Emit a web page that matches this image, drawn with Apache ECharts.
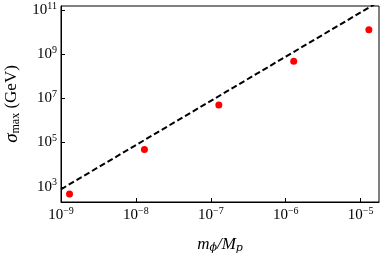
<!DOCTYPE html>
<html><head><meta charset="utf-8">
<script src="https://cdn.jsdelivr.net/npm/echarts@6/dist/echarts.min.js"></script>
<style>html,body{margin:0;padding:0;background:#fff}#c{width:381px;height:259px}</style>
</head><body><div id="c"></div>
<script>
// Data
const massRatio = [1.3e-9, 1.3e-8, 1.28e-7, 1.28e-6, 1.29e-5];
const sigmaMax = [4.7e2, 4.9e4, 5.0e6, 4.7e8, 1.25e10];
const fitX = [1e-9, 2e-5];
const fitY = [7.7e2, 3.07e11];
const xTicks = [1e-9, 1e-8, 1e-7, 1e-6, 1e-5];
const yTicks = [1e3, 1e5, 1e7, 1e9, 1e11];
const xRange = [1e-9, 1.76e-5];
const yRange = [2.05e2, 1.5e11];

const FONT = 'Liberation Serif';
const sup = function (v) {
  const e = Math.round(Math.log10(v));
  return '{b|10}{e|' + String(e).replace('-', '\u2212') + '}';
};
const tickRich = {
  b: { fontFamily: FONT, fontSize: 15, lineHeight: 18, color: '#000' },
  e: { fontFamily: FONT, fontSize: 10, lineHeight: 10, verticalAlign: 'top', color: '#000' }
};

const chart = echarts.init(document.getElementById('c'), null, { renderer: 'canvas' });
chart.setOption({
  animation: false,
  backgroundColor: '#fff',
  grid: {
    left: 61, right: 2, top: 6, bottom: 57,
    show: true, borderColor: '#000', borderWidth: 1,
    outerBoundsMode: 'none'
  },
  xAxis: {
    type: 'log', logBase: 10,
    min: xRange[0], max: xRange[1],
    axisLine: { show: true, lineStyle: { color: '#000', width: 1 } },
    axisTick: { show: true, inside: true, length: 4, lineStyle: { color: '#000' }, customValues: xTicks },
    axisLabel: { customValues: xTicks, formatter: sup, rich: tickRich, margin: 4, color: '#000' },
    minorTick: { show: false },
    splitLine: { show: false },
    name: '{i|m}{s|\u03D5}{i|/M}{s|p}',
    nameLocation: 'middle', nameGap: 33,
    nameTextStyle: {
      rich: {
        i: { fontFamily: FONT, fontStyle: 'italic', fontSize: 17, lineHeight: 19, color: '#000' },
        s: { fontFamily: 'DejaVu Serif', fontStyle: 'italic', fontSize: 11, lineHeight: 11, verticalAlign: 'bottom', color: '#000' }
      }
    }
  },
  yAxis: {
    type: 'log', logBase: 10,
    min: yRange[0], max: yRange[1],
    axisLine: { show: true, lineStyle: { color: '#000', width: 1 } },
    axisTick: { show: true, inside: true, length: 4, lineStyle: { color: '#000' }, customValues: yTicks },
    axisLabel: { customValues: yTicks, formatter: sup, rich: tickRich, margin: 4, color: '#000' },
    minorTick: { show: false },
    splitLine: { show: false },
    name: '{g|\u03C3}{s|max}{n| (GeV)}',
    nameLocation: 'middle', nameGap: 31, nameRotate: 90,
    nameTextStyle: {
      rich: {
        g: { fontFamily: FONT, fontStyle: 'italic', fontSize: 19, lineHeight: 19, color: '#000' },
        s: { fontFamily: FONT, fontSize: 12, lineHeight: 12, verticalAlign: 'bottom', color: '#000' },
        n: { fontFamily: FONT, fontSize: 17, lineHeight: 19, color: '#000' }
      }
    }
  },
  series: [
    {
      type: 'line',
      data: fitX.map((x, i) => [x, fitY[i]]),
      symbol: 'none',
      lineStyle: { color: '#000', width: 2, type: [6, 3] },
      clip: true,
      z: 2
    },
    {
      type: 'scatter',
      data: massRatio.map((x, i) => [x, sigmaMax[i]]),
      symbol: 'circle', symbolSize: 7,
      itemStyle: { color: '#ff0000', opacity: 1 },
      z: 3
    }
  ]
});
</script>
</body></html>
